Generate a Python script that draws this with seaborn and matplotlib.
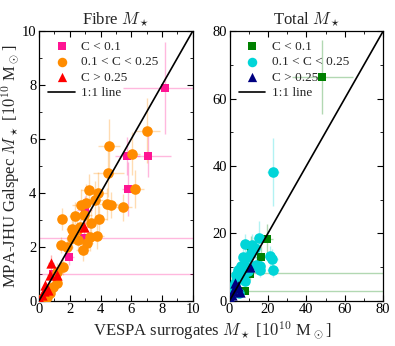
import numpy as np
import pandas as pd
import matplotlib
matplotlib.use("Agg")
import matplotlib.pyplot as plt
import seaborn as sns
from matplotlib.ticker import MultipleLocator

# ---- Fibre masses (left panel) ----
fib_lo_x = [8.17, 5.75, 7.08, 5.81, 1.94, 2.96, 2.95, 0.90]
fib_lo_y = [7.90, 5.37, 5.37, 4.13, 1.61, 3.37, 2.31, 0.99]
fib_lo_xerr = [2.7, 0.8, 1.5, 0.4, 0.3, 0.5, 20.0, 20.0]
fib_lo_yerr = [1.7, 0.7, 0.8, 1.0, 0.3, 0.5, 0.05, 0.05]

fib_mid_x = [7.04, 4.54, 6.07, 4.51, 6.22, 3.22, 3.84, 3.67, 2.72, 3.05, 4.43, 4.67,
             5.46, 2.33, 2.94, 1.47, 3.41, 3.93, 2.12, 2.22, 2.44, 2.66, 3.74, 3.30,
             3.09, 2.55, 2.12, 1.40, 1.79, 2.83, 1.53, 1.14, 1.19, 0.93, 0.71, 0.50, 0.28]
fib_mid_y = [6.31, 5.75, 5.45, 4.75, 4.13, 4.11, 3.98, 3.74, 3.55, 3.64, 3.59, 3.55,
             3.47, 3.16, 3.18, 3.02, 2.87, 3.02, 2.66, 2.59, 2.62, 2.75, 2.40, 2.35,
             2.13, 2.25, 2.31, 2.07, 1.98, 1.88, 1.24, 1.08, 0.64, 0.52, 0.27, 0.15, 0.09]
fib_mid_xerr = [0.8, 0.7, 0.5, 1.0, 0.6, 0.5, 0.6, 0.5, 0.6, 0.4, 0.7, 0.5,
                0.6, 0.4, 0.5, 0.3, 0.6, 0.5, 0.4, 0.4, 0.5, 0.4, 0.5, 0.4,
                0.4, 0.4, 0.3, 0.3, 0.4, 0.4, 0.3, 0.2, 0.3, 0.2, 0.2, 0.1, 0.1]
fib_mid_yerr = [1.2, 1.0, 0.8, 0.9, 0.7, 0.6, 0.8, 0.7, 0.6, 0.7, 0.6, 0.5,
                0.5, 0.5, 0.6, 0.4, 0.6, 0.5, 0.5, 0.4, 0.4, 0.5, 0.5, 0.5,
                0.4, 0.4, 0.4, 0.3, 0.4, 0.4, 0.3, 0.3, 0.2, 0.2, 0.1, 0.1, 0.1]

fib_hi_x = [2.92, 0.76, 1.14, 0.71, 0.39, 0.60, 0.17, 0.06, 0.30]
fib_hi_y = [2.72, 1.39, 0.95, 0.95, 0.58, 0.40, 0.21, 0.02, 0.35]
fib_hi_xerr = [0.3, 0.2, 0.2, 0.2, 0.1, 0.1, 0.1, 0.05, 0.1]
fib_hi_yerr = [0.3, 0.3, 0.2, 0.2, 0.1, 0.1, 0.1, 0.05, 0.1]

# ---- Total masses (right panel) ----
tot_lo_x = [48.4, 19.7, 16.5, 11.3, 10.4, 10.0, 8.0]
tot_lo_y = [66.3, 18.3, 13.1, 15.3, 8.0, 8.2, 2.9]
tot_lo_xerr = [16.0, 3.0, 3.0, 3.0, 2.0, 200.0, 200.0]
tot_lo_yerr = [11.0, 4.5, 3.0, 4.0, 2.0, 0.2, 0.2]

tot_mid_x = [22.6, 15.1, 8.0, 11.8, 13.4, 7.0, 9.6, 11.3, 20.9, 22.3, 13.9, 15.7,
             16.0, 22.6, 4.3, 6.1, 7.8, 3.1, 4.9, 3.8, 8.3, 7.0, 9.6, 2.6, 1.7, 4.9, 0.9]
tot_mid_y = [38.2, 18.6, 16.9, 16.4, 15.6, 13.1, 13.1, 14.1, 13.3, 12.3, 10.7, 10.2,
             9.0, 9.0, 9.2, 10.2, 10.2, 7.7, 7.4, 6.4, 5.7, 7.2, 8.7, 5.2, 4.2, 2.3, 3.3]
tot_mid_xerr = [3.0, 3.0, 2.0, 2.5, 2.5, 2.0, 2.0, 2.5, 3.0, 3.0, 2.5, 2.5,
                2.5, 3.0, 1.5, 1.5, 2.0, 1.0, 1.5, 1.0, 2.0, 1.5, 2.0, 1.0, 0.8, 1.0, 0.5]
tot_mid_yerr = [10.0, 5.0, 3.0, 3.5, 3.0, 3.0, 3.0, 3.0, 3.0, 3.0, 2.5, 2.5,
                2.0, 2.0, 2.0, 2.0, 2.0, 1.5, 1.5, 1.5, 1.5, 1.5, 2.0, 1.0, 1.0, 0.8, 0.8]

tot_hi_x = [10.8, 2.6, 5.2, 3.5, 1.5, 0.5, 4.3, 2.0]
tot_hi_y = [9.9, 5.2, 2.5, 3.7, 1.6, 0.3, 4.5, 2.8]
tot_hi_xerr = [2.0, 1.0, 1.0, 0.8, 0.5, 0.3, 0.8, 0.6]
tot_hi_yerr = [2.0, 1.0, 0.8, 0.8, 0.5, 0.3, 0.8, 0.6]

labels = ["C < 0.1", "0.1 < C < 0.25", "C > 0.25"]
markers = ["s", "o", "^"]
sizes = [34, 58, 55]
fib_colors = ["#ff1493", "#ff8c00", "#ff0000"]
tot_colors = ["#008000", "#00d5d8", "#000080"]

sns.set_style("ticks", {"axes.edgecolor": "black", "xtick.color": "black",
                        "ytick.color": "black"})
plt.rcParams["font.family"] = ["Liberation Serif", "DejaVu Serif"]
plt.rcParams["mathtext.fontset"] = "cm"

fig, axes = plt.subplots(1, 2, figsize=(3.95, 3.46), dpi=100)
fig.subplots_adjust(left=0.099, right=0.97, top=0.91, bottom=0.131, wspace=0.24)


def draw_panel(ax, groups, colors, lim, major, minor, title):
    for (x, y, xe, ye), c in zip(groups, colors):
        ax.errorbar(x, y, xerr=xe, yerr=ye, fmt="none", ecolor=c, alpha=0.3,
                    elinewidth=1.0, zorder=1)
    for (x, y, xe, ye), c, m, s, lab in zip(groups, colors, markers, sizes, labels):
        df = pd.DataFrame({"x": x, "y": y})
        sns.scatterplot(data=df, x="x", y="y", ax=ax, color=c, marker=m, s=s,
                        linewidth=0, label=lab, zorder=3)
    ax.plot([0, lim], [0, lim], color="black", lw=1.2, label="1:1 line", zorder=4)
    ax.set_xlim(0, lim)
    ax.set_ylim(0, lim)
    ax.xaxis.set_major_locator(MultipleLocator(major))
    ax.yaxis.set_major_locator(MultipleLocator(major))
    ax.xaxis.set_minor_locator(MultipleLocator(minor))
    ax.yaxis.set_minor_locator(MultipleLocator(minor))
    ax.tick_params(which="both", direction="in", top=True, right=True,
                   labelsize=10.5, pad=2)
    ax.tick_params(which="major", length=4)
    ax.tick_params(which="minor", length=2)
    for sp in ax.spines.values():
        sp.set_linewidth(0.9)
    ax.set_xlabel("")
    ax.set_ylabel("")
    ax.set_title(title, fontsize=12, pad=5)
    ax.legend(loc="upper left", frameon=False, fontsize=9.5, handlelength=2.0,
              handletextpad=0.5, labelspacing=0.25, borderaxespad=0.3,
              markerscale=0.9)


draw_panel(axes[0],
           [(fib_lo_x, fib_lo_y, fib_lo_xerr, fib_lo_yerr),
            (fib_mid_x, fib_mid_y, fib_mid_xerr, fib_mid_yerr),
            (fib_hi_x, fib_hi_y, fib_hi_xerr, fib_hi_yerr)],
           fib_colors, 10, 2, 1, r"Fibre $M_\star$")
draw_panel(axes[1],
           [(tot_lo_x, tot_lo_y, tot_lo_xerr, tot_lo_yerr),
            (tot_mid_x, tot_mid_y, tot_mid_xerr, tot_mid_yerr),
            (tot_hi_x, tot_hi_y, tot_hi_xerr, tot_hi_yerr)],
           tot_colors, 80, 20, 10, r"Total $M_\star$")

fig.text(0.537, 0.045, r"VESPA surrogates $M_\star$ [$10^{10}$ M$_\odot$]",
         ha="center", va="center", fontsize=12)
fig.text(0.028, 0.52, r"MPA-JHU Galspec $M_\star$ [$10^{10}$ M$_\odot$]",
         ha="center", va="center", rotation=90, fontsize=12)

fig.savefig("out.png", dpi=100)
